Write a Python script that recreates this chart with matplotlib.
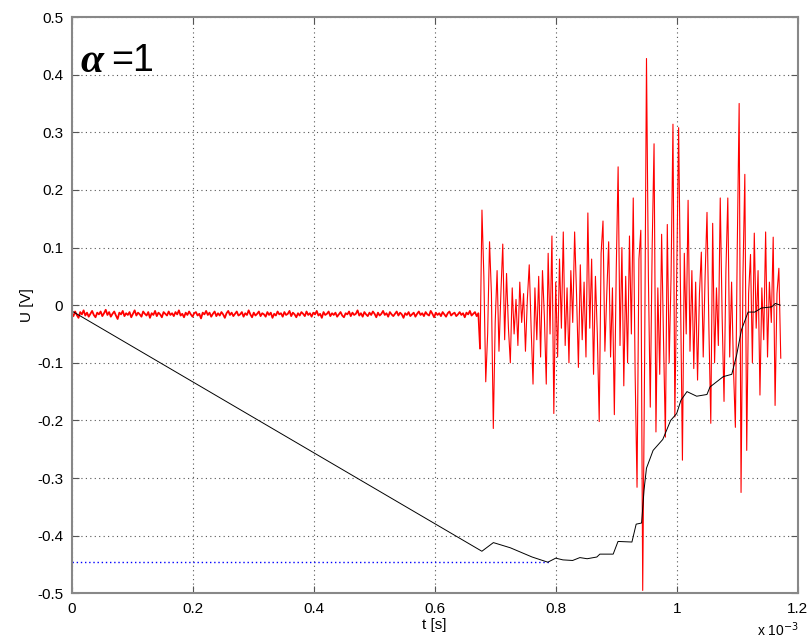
import numpy as np
import matplotlib
matplotlib.use("Agg")
import matplotlib.pyplot as plt
from matplotlib.ticker import FuncFormatter, MultipleLocator

# quiet part of the measured signal (0 .. 0.675 ms), volts
u_quiet = [
    -0.014, -0.019, -0.011, -0.017, -0.022, -0.012, -0.016, -0.009, -0.018, -0.013,
    -0.020, -0.015, -0.010, -0.017, -0.021, -0.013, -0.016, -0.011, -0.019, -0.014,
    -0.008, -0.017, -0.012, -0.020, -0.015, -0.011, -0.018, -0.024, -0.013, -0.016,
    -0.010, -0.019, -0.014, -0.017, -0.012, -0.021, -0.015, -0.009, -0.018, -0.013,
    -0.016, -0.020, -0.011, -0.015, -0.018, -0.012, -0.022, -0.014, -0.017, -0.010,
    -0.019, -0.013, -0.016, -0.021, -0.012, -0.015, -0.018, -0.011, -0.017, -0.014,
    -0.019, -0.012, -0.016, -0.009, -0.018, -0.015, -0.021, -0.013, -0.017, -0.011,
    -0.016, -0.020, -0.014, -0.012, -0.018, -0.015, -0.023, -0.013, -0.016, -0.010,
    -0.017, -0.013, -0.020, -0.015, -0.011, -0.019, -0.014, -0.018, -0.012, -0.016,
    -0.022, -0.014, -0.010, -0.017, -0.013, -0.019, -0.015, -0.011, -0.018, -0.016,
    -0.012, -0.020, -0.014, -0.017, -0.009, -0.016, -0.021, -0.013, -0.018, -0.015,
    -0.011, -0.019, -0.014, -0.016, -0.020, -0.012, -0.017, -0.013, -0.022, -0.015,
    -0.018, -0.011, -0.016, -0.014, -0.020, -0.012, -0.017, -0.015, -0.010, -0.019,
    -0.013, -0.016, -0.021, -0.014, -0.018, -0.012, -0.015, -0.019, -0.011, -0.017,
    -0.014, -0.020, -0.013, -0.016, -0.010, -0.018, -0.015, -0.022, -0.012, -0.017,
    -0.015, -0.011, -0.019, -0.014, -0.017, -0.013, -0.020, -0.016, -0.012, -0.018,
    -0.021, -0.014, -0.016, -0.011, -0.019, -0.013, -0.017, -0.015, -0.009, -0.018,
    -0.014, -0.020, -0.012, -0.016, -0.019, -0.013, -0.017, -0.011, -0.015, -0.021,
    -0.013, -0.018, -0.015, -0.010, -0.017, -0.014, -0.020, -0.012, -0.016, -0.019,
    -0.015, -0.011, -0.018, -0.013, -0.016, -0.022, -0.014, -0.017, -0.012, -0.019,
    -0.016, -0.013, -0.020, -0.015, -0.011, -0.017, -0.014, -0.019, -0.012, -0.016,
    -0.018, -0.010, -0.015, -0.021, -0.013, -0.017, -0.014, -0.019, -0.012, -0.016,
    -0.020, -0.014, -0.011, -0.018, -0.015, -0.013, -0.019, -0.016, -0.012, -0.017,
    -0.014, -0.021, -0.013, -0.016, -0.010, -0.018, -0.015, -0.012, -0.019, -0.014,
]

# active part of the signal (0.675 .. 1.172 ms), volts
u_active = [
    -0.075, 0.165, 0.05, -0.133, -0.05, 0.11, 0.02, -0.214, -0.03, 0.06,
    -0.08, 0.02, 0.106, -0.06, 0.055, -0.04, -0.10, 0.03, -0.05, 0.01,
    -0.07, 0.04, -0.03, 0.02, -0.08, 0.01, 0.07, -0.04, -0.137, 0.03,
    -0.06, 0.05, -0.09, 0.06, -0.02, -0.137, 0.09, -0.05, 0.12, -0.188,
    0.04, -0.09, 0.08, -0.04, 0.127, -0.07, 0.03, -0.10, 0.06, -0.03,
    0.127, 0.02, -0.108, 0.07, -0.06, 0.04, -0.09, 0.16, -0.04, 0.08,
    -0.12, 0.05, -0.05, -0.202, 0.09, 0.146, -0.08, 0.02, 0.11, -0.09,
    0.03, -0.19, 0.06, 0.24, -0.07, 0.10, -0.14, 0.05, -0.10, 0.12,
    -0.05, 0.186, -0.12, -0.316, 0.08, 0.13, -0.495, -0.10, 0.428, 0.05,
    -0.177, 0.10, 0.28, -0.22, 0.03, -0.12, 0.123, -0.06, -0.229, 0.14,
    -0.10, 0.05, 0.314, -0.194, 0.06, 0.308, 0.02, -0.269, 0.09, -0.05,
    0.182, -0.08, 0.06, -0.11, 0.04, -0.13, 0.02, 0.092, -0.09, 0.05,
    0.161, -0.04, -0.205, 0.142, -0.10, 0.03, -0.07, 0.186, -0.02, -0.167,
    0.06, 0.186, -0.09, 0.04, -0.11, -0.212, 0.10, 0.35, -0.325, 0.05,
    0.227, -0.252, 0.02, 0.088, -0.10, 0.125, -0.04, 0.06, -0.156, 0.03,
    -0.06, 0.127, -0.09, 0.04, -0.03, 0.118, -0.174, 0.02, 0.064, -0.092,
]

# black reference curve, time in ms
t_black = [0, 0.678, 0.697, 0.725, 0.761, 0.787, 0.80, 0.812, 0.828, 0.84,
           0.852, 0.868, 0.873, 0.895, 0.903, 0.926, 0.933, 0.942, 0.946, 0.95,
           0.961, 0.977, 0.99, 1.0, 1.007, 1.017, 1.033, 1.05, 1.055, 1.077,
           1.091, 1.099, 1.107, 1.118, 1.129, 1.14, 1.157, 1.163, 1.171]
u_black = [-0.01, -0.427, -0.412, -0.421, -0.437, -0.446, -0.439, -0.442, -0.443, -0.438,
           -0.44, -0.437, -0.432, -0.432, -0.41, -0.411, -0.38, -0.378, -0.321, -0.283,
           -0.252, -0.233, -0.2, -0.188, -0.165, -0.15, -0.158, -0.155, -0.142, -0.124,
           -0.12, -0.087, -0.043, -0.012, -0.012, -0.005, -0.003, 0.003, 0.0]

# blue dotted minimum level
t_blue = [0, 0.79]
u_blue = [-0.445, -0.445]

t_quiet = np.linspace(0, 0.675, len(u_quiet) + 1)[:-1] * 1e-3
t_active = np.linspace(0.675, 1.172, len(u_active)) * 1e-3

plt.rcParams['font.family'] = ['Liberation Sans', 'DejaVu Sans']

fig = plt.figure(figsize=(8.11, 6.44), dpi=100)
ax = fig.add_axes([0.0884, 0.0787, 0.8952, 0.8949])

ax.plot(np.array(t_blue) * 1e-3, u_blue, color='blue', lw=1.0, ls=(0, (1, 2)))
ax.plot(np.append(t_quiet, t_active[0]), u_quiet + [u_active[0]], color='red', lw=1.3)
ax.plot(t_active, u_active, color='red', lw=0.8)
ax.plot(np.array(t_black) * 1e-3, u_black, color='black', lw=0.7)

ax.set_xlim(0, 1.2e-3)
ax.set_ylim(-0.5, 0.5)
ax.xaxis.set_major_locator(MultipleLocator(0.2e-3))
ax.yaxis.set_major_locator(MultipleLocator(0.1))
ax.xaxis.set_major_formatter(FuncFormatter(lambda v, p: f'{round(v * 1e3, 3):g}'))
ax.yaxis.set_major_formatter(FuncFormatter(lambda v, p: f'{round(v, 3) + 0:g}'))
ax.grid(True, color='#555555', ls=(0, (1, 3)), lw=0.8)
ax.tick_params(direction='in', length=5, labelsize=11, top=True, right=True,
               color='#555555', pad=6)
for s in ax.spines.values():
    s.set_color('#888888')
    s.set_linewidth(1.5)

ax.set_xlabel('t [s]', fontsize=11, labelpad=2)
ax.set_ylabel('U [V]', fontsize=11, labelpad=2)
fig.text(0.933, 0.012, r'x 10$^{-3}$', fontsize=10)

ax.text(0.012, 0.955, '\u03b1', transform=ax.transAxes, fontsize=30,
        family='Liberation Serif', weight='bold', style='italic', va='top')
ax.text(0.055, 0.955, '=1', transform=ax.transAxes, fontsize=27, va='top')

fig.savefig('out.png', dpi=100)
